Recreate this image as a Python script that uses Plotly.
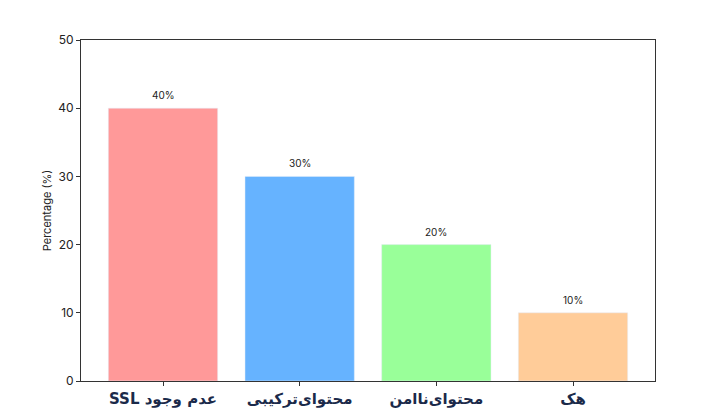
import plotly.graph_objects as go

categories = ["عدم وجود SSL", "محتوای\u200cترکیبی", "محتوای\u200cناامن", "هک"]
values = [40, 30, 20, 10]
colors = ["#ff9999", "#66b3ff", "#99ff99", "#ffcc99"]
labels = [f"{v}%" for v in values]

xs = list(range(len(categories)))
fig = go.Figure(go.Bar(
    x=xs, y=values, marker_color=colors, width=0.8,
))
for x, v, t in zip(xs, values, labels):
    fig.add_annotation(x=x, y=v, text=t, showarrow=False, yanchor="bottom",
                       yshift=5, font=dict(size=10, color="#222"))

fig.update_layout(
    width=715, height=415,
    margin=dict(l=73, r=68, t=32, b=42),
    plot_bgcolor="white", paper_bgcolor="white",
    font=dict(family="Inter, DejaVu Sans, sans-serif", color="#222"),
    showlegend=False,
)
fig.update_xaxes(
    range=[-0.6, 3.6], tickmode="array", tickvals=xs,
    ticktext=[f"<b>\u202b{c}\u202c</b>" for c in categories],
    tickfont=dict(family="DejaVu Sans", size=15, color="#1b2a4a"),
    showline=True, linecolor="#333", linewidth=1, mirror=True,
    ticks="outside", ticklen=4, tickcolor="#333", showgrid=False, zeroline=False,
)
fig.update_yaxes(
    range=[0, 50], tickvals=[0, 10, 20, 30, 40, 50],
    tickfont=dict(size=12, color="#222"),
    title=dict(text="Percentage (%)", font=dict(size=11, color="#222"), standoff=4),
    showline=True, linecolor="#333", linewidth=1, mirror=True,
    ticks="outside", ticklen=4, tickcolor="#333", showgrid=False, zeroline=False,
)

fig.write_html("out.html")
